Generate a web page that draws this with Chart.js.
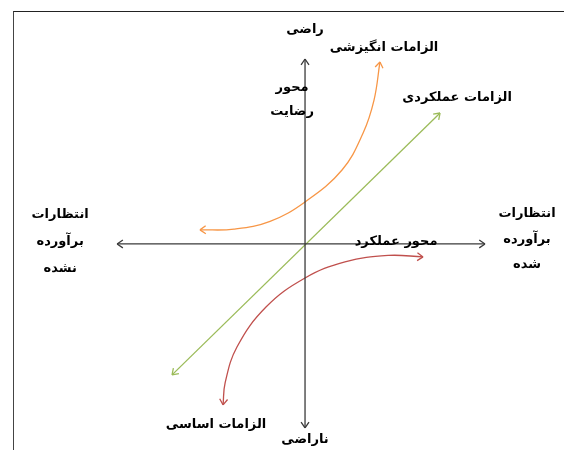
<!DOCTYPE html>
<html><head><meta charset="utf-8">
<script src="https://cdn.jsdelivr.net/npm/chart.js@4/dist/chart.umd.min.js"></script>
<style>
html,body{margin:0;padding:0;background:#fff;}
#wrap{position:relative;width:564px;height:450px;}
#frame{position:absolute;left:13px;top:11px;width:560px;height:450px;border-top:1.5px solid #222;border-left:1px solid #444;pointer-events:none;}
canvas{position:absolute;left:0;top:0;}
</style></head>
<body>
<div id="wrap"><canvas id="c" width="564" height="450"></canvas><div id="frame"></div></div>
<script>
// Axis extents (data units)
const axisX = [{x:-10.16,y:0},{x:9.73,y:0}];
const axisY = [{x:0,y:-9.95},{x:0,y:10.0}];
// Performance (linear) requirement
const performance = [{x:-7.19,y:-7.08},{x:7.3,y:7.08}];
// Attractive (excitement) requirement curve
const attractiveX = [-5.68,-3.84,-1.89,0,2.0,3.14,3.73,4.05];
const attractiveY = [0.76,0.80,1.22,2.27,4.0,6.0,7.78,9.84];
// Basic (must-be) requirement curve
const basicX = [-4.43,-4.32,-3.68,-2.11,0,2.16,4.49,6.38];
const basicY = [-8.70,-7.51,-5.57,-3.41,-1.84,-0.97,-0.62,-0.70];
// Labels
const labelTexts = ["راضی","الزامات انگیزشی","محور","رضایت","الزامات عملکردی",
  "انتظارات","برآورده","نشده","انتظارات","برآورده","شده","محور عملکرد","الزامات اساسی","ناراضی"];
const labelX = [0,4.27,-0.70,-0.70,8.22,-13.24,-13.24,-13.24,12.0,12.0,12.0,4.92,-4.81,0];
const labelY = [11.57,10.6,8.43,7.14,7.89,1.57,0.11,-1.35,1.62,0.22,-1.14,0.11,-9.78,-10.59];

const zip = (xs,ys)=>xs.map((x,i)=>({x:x,y:ys[i]}));

const arrowPlugin = {
  id:'arrows',
  afterDatasetsDraw(chart){
    const ctx = chart.ctx;
    chart.data.datasets.forEach((ds,i)=>{
      const pts = chart.getDatasetMeta(i).data;
      const draw = (tip, from)=>{
        let dx = tip.x-from.x, dy = tip.y-from.y;
        const L = Math.hypot(dx,dy); dx/=L; dy/=L;
        const len = 7, ang = 0.6;
        ctx.save();
        ctx.strokeStyle = ds.borderColor; ctx.lineWidth = ds.borderWidth;
        ctx.beginPath();
        for (const s of [-1,1]){
          const c = Math.cos(ang), sn = Math.sin(ang)*s;
          const rx = dx*c - dy*sn, ry = dx*sn + dy*c;
          ctx.moveTo(tip.x, tip.y);
          ctx.lineTo(tip.x - rx*len, tip.y - ry*len);
        }
        ctx.stroke(); ctx.restore();
      };
      const n = pts.length;
      if (ds.arrowStart) draw(pts[0], pts[1]);
      if (ds.arrowEnd) draw(pts[n-1], pts[n-2]);
    });
  }
};

const textPlugin = {
  id:'texts',
  afterDraw(chart){
    const ctx = chart.ctx, xs = chart.scales.x, ys = chart.scales.y;
    ctx.save();
    ctx.fillStyle = '#000';
    ctx.font = 'bold 13px "DejaVu Sans"';
    ctx.textAlign = 'center'; ctx.textBaseline = 'middle';
    ctx.direction = 'rtl';
    labelTexts.forEach((t,i)=>{
      ctx.fillText(t, xs.getPixelForValue(labelX[i]), ys.getPixelForValue(labelY[i]));
    });
    ctx.restore();
  }
};

const common = {showLine:true, pointRadius:0, fill:false};
new Chart(document.getElementById('c'), {
  type:'scatter',
  data:{datasets:[
    {...common, data:axisX, borderColor:'#3a3a3a', borderWidth:1.3, arrowStart:true, arrowEnd:true},
    {...common, data:axisY, borderColor:'#3a3a3a', borderWidth:1.3, arrowStart:true, arrowEnd:true},
    {...common, data:performance, borderColor:'#9bbb59', borderWidth:1.3, arrowStart:true, arrowEnd:true},
    {...common, data:zip(attractiveX,attractiveY), borderColor:'#f79646', borderWidth:1.3, tension:0.4, arrowStart:true, arrowEnd:true},
    {...common, data:zip(basicX,basicY), borderColor:'#c0504d', borderWidth:1.3, tension:0.4, arrowStart:true, arrowEnd:true}
  ]},
  options:{
    responsive:false, animation:false,
    layout:{padding:0},
    scales:{
      x:{type:'linear', min:-16.49, max:14.0, display:false},
      y:{type:'linear', min:-11.14, max:13.19, display:false}
    },
    plugins:{legend:{display:false}, tooltip:{enabled:false}}
  },
  plugins:[arrowPlugin,textPlugin]
});
</script>
</body></html>
